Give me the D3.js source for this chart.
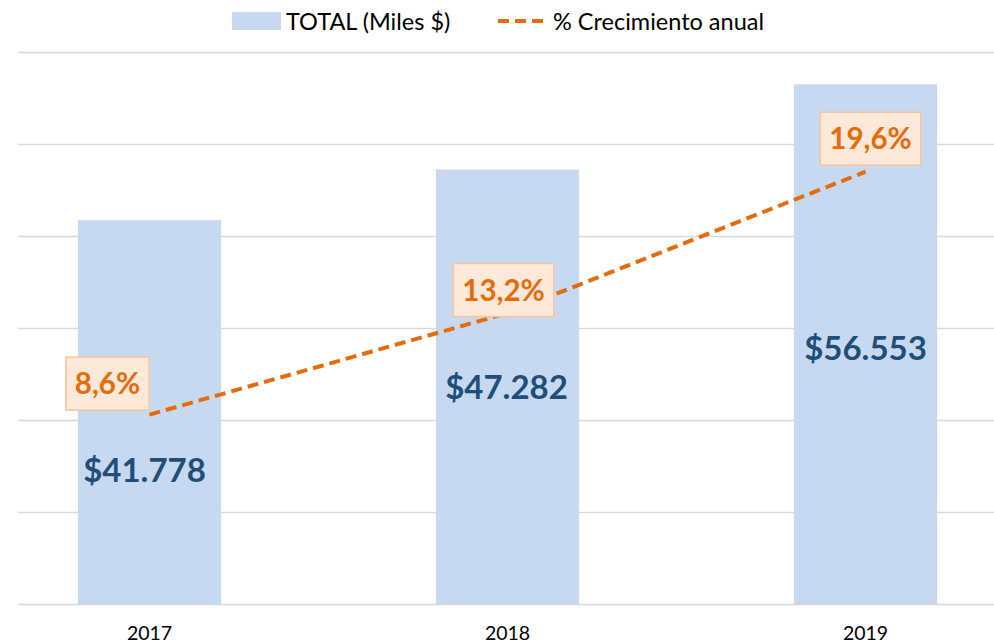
<!DOCTYPE html>
<html>
<head>
<meta charset="utf-8">
<script src="https://cdn.jsdelivr.net/npm/d3@7"></script>
<style>
  html, body { margin: 0; padding: 0; background: #fff; }
  svg { display: block; }
  text { font-family: Lato, "Open Sans", sans-serif; }
</style>
</head>
<body>
<div id="chart"></div>
<script>
// ---- data ----
const years = ["2017", "2018", "2019"];
const totals = [41778, 47282, 56553];           // TOTAL (Miles $)
const growth = [8.6, 13.2, 19.6];              // % Crecimiento anual
const totalLabels = ["$41.778", "$47.282", "$56.553"];
const growthLabels = ["8,6%", "13,2%", "19,6%"];
const yTicks = [0, 10000, 20000, 30000, 40000, 50000, 60000];
const seriesNames = ["TOTAL (Miles $)", "% Crecimiento anual"];

// ---- layout (not data) ----
const W = 994, H = 644;
const totalLabelAt = [13300, 22300, 26600];    // label baseline in axis units
const totalLabelDx = [-5, -1, 0];
const growthLabelOffset = [[-42, -31], [-4, -23], [5, -33]]; // box centre offset from point

const colors = { bar: "#C6D9F0", line: "#E46C0A", label: "#1F4E79",
                 boxFill: "#FDE9D9", boxStroke: "#F8C49A", grid: "#D9D9D9" };

const svg = d3.select("#chart").append("svg").attr("width", W).attr("height", H);

const x = d3.scaleBand().domain(years).range([-29.5, 1044.5]).paddingInner(0.6).paddingOuter(0.3);
const y = d3.scaleLinear().domain([0, 60000]).range([604.5, 52.5]);
const y2 = d3.scaleLinear().domain([0, 25]).range([604.5, 52.5]);

// gridlines
svg.append("g").selectAll("line").data(yTicks).join("line")
  .attr("x1", 18).attr("x2", W)
  .attr("y1", d => y(d)).attr("y2", d => y(d))
  .attr("stroke", colors.grid).attr("stroke-width", 1.5);

// bars
svg.append("g").selectAll("rect").data(years).join("rect")
  .attr("x", d => x(d)).attr("width", x.bandwidth())
  .attr("y", (d, i) => y(totals[i])).attr("height", (d, i) => y(0) - y(totals[i]))
  .attr("fill", colors.bar);

// x axis labels
const xAxis = d3.axisBottom(x).tickSize(0).tickPadding(0);
const gx = svg.append("g").attr("transform", `translate(0, ${y(0)})`).call(xAxis);
gx.select(".domain").remove();
gx.selectAll("text").attr("font-family", "Lato, sans-serif").attr("font-size", 19.5)
  .attr("fill", "#000").attr("dy", 0).attr("y", 35);

// bar value labels
svg.append("g").selectAll("text").data(years).join("text")
  .attr("x", (d, i) => x(d) + x.bandwidth() / 2 + totalLabelDx[i])
  .attr("y", (d, i) => y(totalLabelAt[i]))
  .attr("text-anchor", "middle")
  .attr("font-size", 33).attr("font-weight", 700)
  .attr("fill", colors.label)
  .text((d, i) => totalLabels[i]);

// growth line
const cx = d => x(d) + x.bandwidth() / 2;
svg.append("path").datum(years)
  .attr("d", d3.line().x(v => cx(v)).y((v, i) => y2(growth[i])))
  .attr("fill", "none").attr("stroke", colors.line)
  .attr("stroke-width", 4).attr("stroke-dasharray", "11 6");

// growth labels
const gl = svg.append("g").selectAll("g").data(years).join("g")
  .attr("transform", (d, i) => `translate(${cx(d) + growthLabelOffset[i][0]}, ${y2(growth[i]) + growthLabelOffset[i][1]})`);
gl.each(function(d, i) {
  const g = d3.select(this);
  const rect = g.append("rect");
  const t = g.append("text")
    .attr("text-anchor", "middle").attr("dy", "0.36em")
    .attr("font-size", 29.5).attr("font-weight", 700)
    .attr("fill", colors.line).text(growthLabels[i]);
  const bb = t.node().getBBox();
  const pw = 9, h = 53;
  rect.attr("x", -bb.width / 2 - pw).attr("width", bb.width + 2 * pw)
    .attr("y", -h / 2).attr("height", h)
    .attr("fill", colors.boxFill).attr("stroke", colors.boxStroke).attr("stroke-width", 1.5);
});

// legend
const lg = svg.append("g");
lg.append("rect").attr("x", 232).attr("y", 12).attr("width", 49).attr("height", 18).attr("fill", colors.bar);
lg.append("text").attr("x", 286).attr("y", 29.5).attr("font-size", 23.5).attr("fill", "#000").text(seriesNames[0]);
lg.append("line").attr("x1", 498).attr("x2", 545).attr("y1", 21).attr("y2", 21)
  .attr("stroke", colors.line).attr("stroke-width", 4).attr("stroke-dasharray", "11 6");
lg.append("text").attr("x", 553).attr("y", 29.5).attr("font-size", 23.5).attr("fill", "#000").text(seriesNames[1]);
</script>
</body>
</html>
